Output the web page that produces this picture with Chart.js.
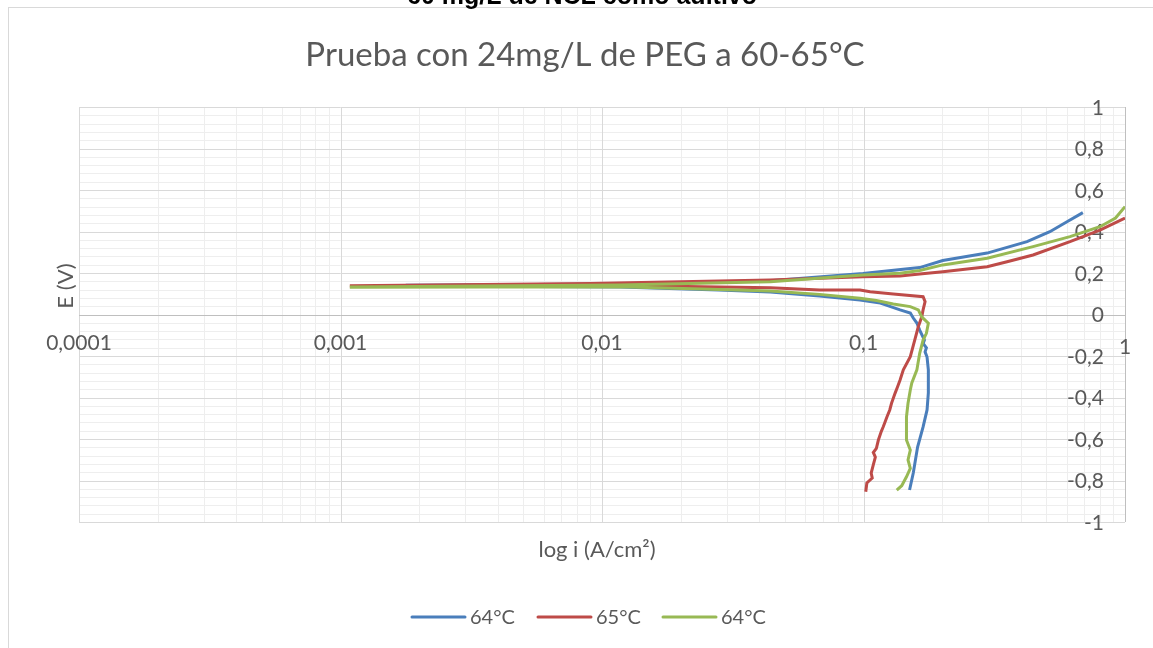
<!DOCTYPE html>
<html>
<head>
<meta charset="utf-8">
<script src="https://cdn.jsdelivr.net/npm/chart.js@4.4.1/dist/chart.umd.min.js"></script>
<style>
  html, body { margin: 0; padding: 0; background: #fff; }
  #wrap { width: 1153px; height: 648px; position: relative; }
</style>
</head>
<body>
<div id="wrap"><canvas id="myChart"></canvas></div>
<script>
// series names (legend)
const seriesNames = ["64°C", "65°C", "64°C"];
const seriesColors = ["#4a7ebb", "#be4b48", "#98b954"];

// 64°C (blue): current density i (A/cm2) and potential E (V), in scan order
const blueI = [0.150, 0.155, 0.161, 0.169, 0.175, 0.177, 0.177, 0.175, 0.172, 0.174, 0.169, 0.171, 0.164, 0.160, 0.155, 0.151,
  0.138, 0.116, 0.097, 0.068, 0.044, 0.028, 0.0117, 0.0018,
  0.0018, 0.0117, 0.044, 0.0995, 0.164, 0.201, 0.297, 0.422, 0.516, 0.600, 0.690];
const blueE = [-0.846, -0.764, -0.639, -0.542, -0.460, -0.378, -0.267, -0.205, -0.180, -0.160, -0.140, -0.123, -0.075, -0.041, -0.017, 0.007,
  0.022, 0.055, 0.070, 0.089, 0.108, 0.118, 0.133, 0.139,
  0.141, 0.147, 0.163, 0.198, 0.226, 0.260, 0.296, 0.351, 0.399, 0.447, 0.491];

// 65°C (red)
const redI = [0.102, 0.103, 0.108, 0.107, 0.109, 0.111, 0.109, 0.112, 0.114, 0.117, 0.119, 0.121, 0.123, 0.126, 0.128,
  0.130, 0.132, 0.135, 0.138, 0.142, 0.151, 0.157, 0.162, 0.167, 0.169, 0.172, 0.169,
  0.130, 0.106, 0.097, 0.068, 0.044, 0.0117, 0.0011,
  0.0011, 0.009, 0.044, 0.0995, 0.138, 0.164, 0.201, 0.297, 0.354, 0.445, 0.616, 0.802, 1.0];
const redE = [-0.854, -0.812, -0.788, -0.764, -0.725, -0.687, -0.665, -0.645, -0.605, -0.563, -0.541, -0.517, -0.493, -0.460, -0.428,
  -0.404, -0.380, -0.348, -0.316, -0.267, -0.203, -0.123, -0.059, -0.011, 0.022, 0.062, 0.086,
  0.099, 0.110, 0.118, 0.118, 0.129, 0.140, 0.137,
  0.139, 0.150, 0.166, 0.182, 0.186, 0.195, 0.206, 0.230, 0.254, 0.287, 0.351, 0.407, 0.465];

// 64°C (green)
const greenI = [0.134, 0.140, 0.146, 0.151, 0.148, 0.151, 0.146, 0.146, 0.146, 0.148, 0.151, 0.153,
  0.160, 0.164, 0.169, 0.174, 0.177, 0.172, 0.167, 0.162, 0.151, 0.130, 0.112, 0.097, 0.068, 0.044, 0.028, 0.0117, 0.0011,
  0.0011, 0.0117, 0.044, 0.0995, 0.138, 0.164, 0.201, 0.297, 0.445, 0.616, 0.802, 0.92, 1.0];
const greenE = [-0.846, -0.825, -0.782, -0.741, -0.701, -0.653, -0.605, -0.541, -0.493, -0.428, -0.364, -0.330,
  -0.267, -0.187, -0.123, -0.091, -0.042, -0.027, -0.011, 0.022, 0.038, 0.051, 0.067, 0.078, 0.097, 0.113, 0.121, 0.134, 0.131,
  0.133, 0.142, 0.158, 0.190, 0.199, 0.212, 0.239, 0.271, 0.327, 0.375, 0.423, 0.465, 0.520];

// axis ticks
const xTicks = [0.0001, 0.001, 0.01, 0.1, 1];
const xTickLabels = ["0,0001", "0,001", "0,01", "0,1", "1"];
const yTicks = [1, 0.8, 0.6, 0.4, 0.2, 0, -0.2, -0.4, -0.6, -0.8, -1];
const yTickLabels = ["1", "0,8", "0,6", "0,4", "0,2", "0", "-0,2", "-0,4", "-0,6", "-0,8", "-1"];

const toPoints = (xs, ys) => xs.map((v, i) => ({ x: v, y: ys[i] }));

const FONT = "Lato, 'Open Sans', sans-serif";
const TEXT = "#595959";

// draws the Excel-like frame, grid, labels and legend
const excelFrame = {
  id: "excelFrame",
  beforeDraw(chart) {
    const { ctx, width, height } = chart;
    ctx.save();
    ctx.fillStyle = "#fff";
    ctx.fillRect(0, 0, width, height);
    ctx.strokeStyle = "#d9d9d9";
    ctx.lineWidth = 1;
    ctx.strokeRect(8.5, 7.5, width + 10, height + 10);
    // heading of the page, cut off at the top
    ctx.fillStyle = "#000";
    ctx.font = "bold 25px 'Liberation Sans', Arial, sans-serif";
    ctx.textAlign = "center";
    ctx.textBaseline = "alphabetic";
    ctx.fillText("60 mg/L de NCL como aditivo", 582, 4);
    ctx.restore();
  },
  beforeDatasetsDraw(chart) {
    const { ctx, chartArea: a, scales: { x, y } } = chart;
    ctx.save();
    ctx.lineWidth = 1;
    const vline = (px, color) => {
      const p = Math.round(px) + 0.5;
      ctx.strokeStyle = color;
      ctx.beginPath(); ctx.moveTo(p, a.top); ctx.lineTo(p, a.bottom); ctx.stroke();
    };
    const hline = (py, color) => {
      const p = Math.round(py) + 0.5;
      ctx.strokeStyle = color;
      ctx.beginPath(); ctx.moveTo(a.left, p); ctx.lineTo(a.right, p); ctx.stroke();
    };
    // minor grid
    for (let d = -4; d < 0; d++) {
      for (let k = 2; k <= 9; k++) vline(x.getPixelForValue(k * Math.pow(10, d)), "#eeeeee");
    }
    for (let n = -25; n <= 25; n++) {
      if (n % 5 !== 0) hline(y.getPixelForValue(n * 0.04), "#eeeeee");
    }
    // major grid
    xTicks.forEach(v => vline(x.getPixelForValue(v), "#d9d9d9"));
    yTicks.forEach(v => hline(y.getPixelForValue(v), "#d9d9d9"));
    // axis lines (x crosses at E = 0, y at i = 1)
    hline(y.getPixelForValue(0), "#bfbfbf");
    vline(x.getPixelForValue(1), "#bfbfbf");

    // tick labels
    ctx.fillStyle = TEXT;
    ctx.font = "21px " + FONT;
    ctx.textAlign = "center";
    ctx.textBaseline = "middle";
    xTicks.forEach((v, i) => {
      const dy = v === 1 ? 33 : 29;
      ctx.fillText(xTickLabels[i], x.getPixelForValue(v), y.getPixelForValue(0) + dy);
    });
    ctx.textAlign = "right";
    yTicks.forEach((v, i) => {
      ctx.fillText(yTickLabels[i], x.getPixelForValue(1) - 21, y.getPixelForValue(v) + 1);
    });
    ctx.restore();
  },
  afterDraw(chart) {
    const { ctx } = chart;
    ctx.save();
    ctx.fillStyle = TEXT;
    ctx.textAlign = "center";
    ctx.textBaseline = "middle";
    // chart title
    ctx.font = "33px " + FONT;
    ctx.fillText("Prueba con 24mg/L de PEG a 60-65°C", 585, 55);
    // axis titles
    ctx.font = "22px " + FONT;
    ctx.fillText("log i (A/cm²)", 597, 550);
    ctx.save();
    ctx.translate(66, 286);
    ctx.rotate(-Math.PI / 2);
    ctx.fillText("E (V)", 0, 0);
    ctx.restore();
    // legend
    const starts = [412, 538, 663];
    ctx.textAlign = "left";
    ctx.font = "20px " + FONT;
    seriesNames.forEach((name, i) => {
      ctx.strokeStyle = seriesColors[i];
      ctx.lineWidth = 3;
      ctx.lineCap = "round";
      ctx.beginPath();
      ctx.moveTo(starts[i], 617);
      ctx.lineTo(starts[i] + 53, 617);
      ctx.stroke();
      ctx.fillText(name, starts[i] + 58, 618);
    });
    ctx.restore();
  }
};

const data = {
  datasets: [
    { label: seriesNames[0], data: toPoints(blueI, blueE), borderColor: seriesColors[0], order: 3 },
    { label: seriesNames[1], data: toPoints(redI, redE), borderColor: seriesColors[1], order: 2 },
    { label: seriesNames[2], data: toPoints(greenI, greenE), borderColor: seriesColors[2], order: 1 },
  ].map(ds => ({ ...ds, showLine: true, pointRadius: 0, borderWidth: 3, tension: 0, backgroundColor: ds.borderColor })),
};

const options = {
  responsive: true,
  maintainAspectRatio: false,
  animation: false,
  layout: { padding: { left: 79, right: 28, top: 107, bottom: 126 } },
  plugins: {
    legend: { display: false },
    tooltip: { enabled: false },
  },
  scales: {
    x: { type: "logarithmic", min: 0.0001, max: 1, display: false },
    y: { type: "linear", min: -1, max: 1, display: false },
  },
};

new Chart(document.getElementById("myChart"), {
  type: "scatter",
  data: data,
  options: options,
  plugins: [excelFrame],
});
</script>
</body>
</html>
